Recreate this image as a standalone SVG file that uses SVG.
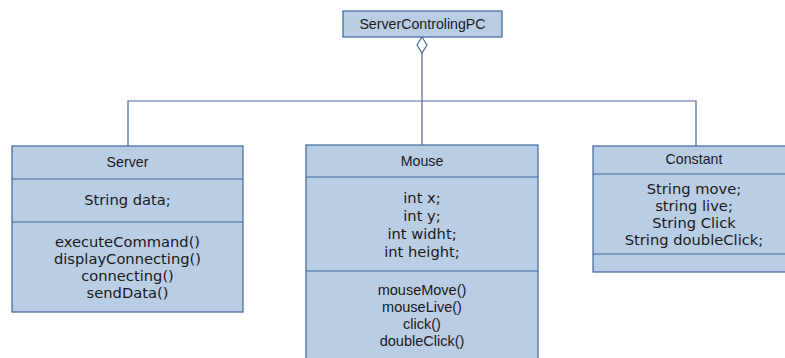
<svg xmlns="http://www.w3.org/2000/svg" width="785" height="358" viewBox="0 0 785 358">
  <style>
    .box { fill: #b9cde5; stroke: #3f649b; stroke-width: 1.2; }
    .sep { stroke: #3f649b; stroke-width: 1.2; fill: none; }
    .wire { stroke: #4a6c9c; stroke-width: 1.2; fill: none; }
    .name { font-family: "Liberation Sans", Arial, sans-serif; font-size: 14.2px; fill: #1a1a1a; text-anchor: middle; }
    .v { font-family: "DejaVu Sans", Verdana, sans-serif; font-size: 14.7px; fill: #1a1a1a; text-anchor: middle; }
    .a { font-family: "Liberation Sans", Arial, sans-serif; font-size: 14.5px; fill: #1a1a1a; text-anchor: middle; }
  </style>
  <rect width="785" height="358" fill="#ffffff"/>

  <!-- aggregation connectors -->
  <g id="connectors">
    <polyline class="wire" points="128,146 128,101 696,101 696,146"/>
    <line class="wire" x1="422" y1="53" x2="422" y2="146"/>
    <polygon points="422,37 427,45 422,53 417,45" fill="#ffffff" stroke="#4a6c9c" stroke-width="1.2"/>
  </g>

  <g id="ServerControlingPC">
    <rect class="box" x="343" y="11" width="159" height="26"/>
    <text class="name" x="422.5" y="29">ServerControlingPC</text>
  </g>

  <g id="Server">
    <rect class="box" x="12" y="146" width="231" height="166"/>
    <line class="sep" x1="12" y1="179" x2="243" y2="179"/>
    <line class="sep" x1="12" y1="222" x2="243" y2="222"/>
    <text class="name" x="127.5" y="167">Server</text>
    <text class="v" x="127.5" y="205">String data;</text>
    <text class="v" x="127.5" y="246.5">executeCommand()</text>
    <text class="v" x="127.5" y="263.5">displayConnecting()</text>
    <text class="v" x="127.5" y="280.5">connecting()</text>
    <text class="v" x="127.5" y="297.5">sendData()</text>
  </g>

  <g id="Mouse">
    <rect class="box" x="306" y="145" width="232" height="220"/>
    <line class="sep" x1="306" y1="177" x2="538" y2="177"/>
    <line class="sep" x1="306" y1="271" x2="538" y2="271"/>
    <text class="name" x="422" y="166">Mouse</text>
    <text class="v" x="422" y="203">int x;</text>
    <text class="v" x="422" y="221">int y;</text>
    <text class="v" x="422" y="239">int widht;</text>
    <text class="v" x="422" y="257">int height;</text>
    <text class="a" x="422" y="295">mouseMove()</text>
    <text class="a" x="422" y="312">mouseLive()</text>
    <text class="a" x="422" y="329">click()</text>
    <text class="a" x="422" y="346">doubleClick()</text>
  </g>

  <g id="Constant">
    <rect class="box" x="593" y="146" width="202" height="126"/>
    <line class="sep" x1="593" y1="174" x2="795" y2="174"/>
    <line class="sep" x1="593" y1="254" x2="795" y2="254"/>
    <text class="name" x="694" y="164">Constant</text>
    <text class="v" x="694" y="193.5">String move;</text>
    <text class="v" x="694" y="210.5">string live;</text>
    <text class="v" x="694" y="227.5">String Click</text>
    <text class="v" x="694" y="244.5">String doubleClick;</text>
  </g>
</svg>
